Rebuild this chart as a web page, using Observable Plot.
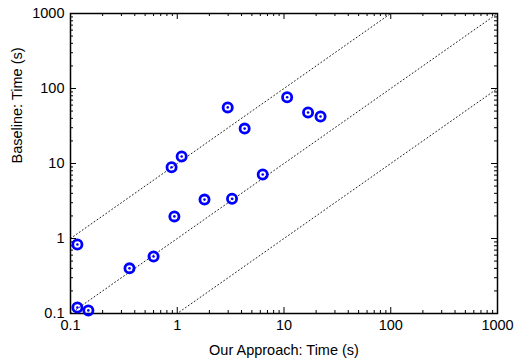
<!DOCTYPE html>
<html>
<head>
<meta charset="utf-8">
<script src="https://cdn.jsdelivr.net/npm/d3@7"></script>
<script src="https://cdn.jsdelivr.net/npm/@observablehq/plot@0.6"></script>
<style>
  html, body { margin: 0; padding: 0; background: #fff; }
  #chart { width: 516px; height: 362px; }
</style>
</head>
<body>
<div id="chart"></div>
<script>
// Data (seconds)
const ourTime = [0.116, 0.116, 0.147, 0.357, 0.60, 0.885, 1.10, 0.94, 1.80, 2.97, 4.28, 3.26, 6.32, 10.7, 16.8, 22.0];
const baseTime = [0.83, 0.12, 0.11, 0.40, 0.575, 8.9, 12.4, 1.97, 3.3, 56, 29.2, 3.39, 7.13, 76.6, 47.9, 42.3];
const ratios = [10, 1, 0.1];
const majorTicks = [0.1, 1, 10, 100, 1000];
const xLabel = "Our Approach: Time (s)";
const yLabel = "Baseline: Time (s)";

const points = ourTime.map((x, i) => ({x, y: baseTime[i]}));
const domain = [0.1, 1000];
const refLines = ratios.flatMap(r => domain.map(x => ({r, x, y: r * x})));
const minorTicks = majorTicks.slice(0, -1).flatMap(d => [2,3,4,5,6,7,8,9].map(k => d * k));

const W = 516, H = 362, mL = 70, mR = 19, mT = 13, mB = 49;
const pw = W - mL - mR, ph = H - mT - mB;
const font = "'Liberation Sans', Arial, Helvetica, sans-serif";
const majorLen = 6, minorLen = 3;

const chart = Plot.plot({
  width: W, height: H,
  marginLeft: mL, marginRight: mR, marginTop: mT, marginBottom: mB,
  style: {fontFamily: font, fontSize: "14.5px", color: "#000", background: "#fff"},
  x: {type: "log", domain, label: null},
  y: {type: "log", domain, label: null},
  marks: [
    Plot.line(refLines, {x: "x", y: "y", z: "r", stroke: "#222", strokeWidth: 1, strokeDasharray: "1,2.6", clip: true}),
    // inward ticks on all four sides
    Plot.tickX(majorTicks, {x: d => d, insetTop: ph - majorLen, stroke: "#000", strokeWidth: 1}),
    Plot.tickX(majorTicks, {x: d => d, insetBottom: ph - majorLen, stroke: "#000", strokeWidth: 1}),
    Plot.tickX(minorTicks, {x: d => d, insetTop: ph - minorLen, stroke: "#000", strokeWidth: 1}),
    Plot.tickX(minorTicks, {x: d => d, insetBottom: ph - minorLen, stroke: "#000", strokeWidth: 1}),
    Plot.tickY(majorTicks, {y: d => d, insetRight: pw - majorLen, stroke: "#000", strokeWidth: 1}),
    Plot.tickY(majorTicks, {y: d => d, insetLeft: pw - majorLen, stroke: "#000", strokeWidth: 1}),
    Plot.tickY(minorTicks, {y: d => d, insetRight: pw - minorLen, stroke: "#000", strokeWidth: 1}),
    Plot.tickY(minorTicks, {y: d => d, insetLeft: pw - minorLen, stroke: "#000", strokeWidth: 1}),
    Plot.axisX({ticks: majorTicks, tickSize: 0, tickPadding: 6, tickFormat: d => String(d), label: null, fontSize: 14.5}),
    Plot.axisY({ticks: majorTicks, tickSize: 0, tickPadding: 6, tickFormat: d => String(d), label: null, fontSize: 14.5}),
    Plot.frame({stroke: "#000", strokeWidth: 1.5}),
    Plot.dot(points, {x: "x", y: "y", r: 4.6, stroke: "#0000ff", strokeWidth: 2.8, fill: "none"}),
    Plot.dot(points, {x: "x", y: "y", r: 1.3, fill: "#0000ff", stroke: "none"}),
    Plot.text([xLabel], {text: d => d, frameAnchor: "bottom", dy: 37, lineAnchor: "middle", fontSize: 14.5}),
    Plot.text([yLabel], {text: d => d, frameAnchor: "left", dx: -53, rotate: -90, lineAnchor: "middle", fontSize: 14.5})
  ]
});
document.getElementById("chart").appendChild(chart);
</script>
</body>
</html>
